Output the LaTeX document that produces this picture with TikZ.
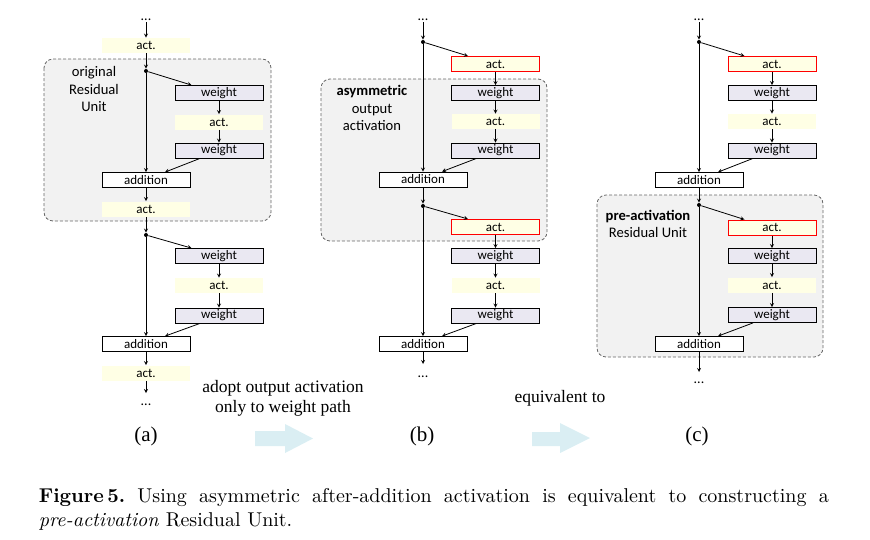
\documentclass[tikz,border=0pt]{standalone}
\usepackage{fontspec}
\newfontfamily\calib{Carlito}
\newfontfamily\timesr{Liberation Serif}
\definecolor{actfill}{RGB}{255,255,229}
\definecolor{wtfill}{RGB}{234,232,242}
\definecolor{unitfill}{RGB}{242,242,242}
\definecolor{flowblue}{RGB}{218,238,243}
\begin{document}
\begin{tikzpicture}[x=1pt,y=-1pt,line width=0.8pt,>=stealth,
  box/.style={minimum width=88pt,minimum height=15pt,inner sep=0pt,font=\calib\fontsize{13}{15}\selectfont},
  act/.style={box,fill=actfill},
  actr/.style={box,fill=actfill,draw=red,line width=1pt},
  wt/.style={box,fill=wtfill,draw=black},
  addn/.style={box,fill=white,draw=black},
  jn/.style={circle,fill=black,inner sep=0pt,minimum size=4pt},
  dotsn/.style={inner sep=1pt,font=\calib\fontsize{14}{15}\selectfont},
  unitbox/.style={draw=black!60,dash pattern=on 3pt off 2pt,fill=unitfill,rounded corners=9pt},
  utext/.style={align=center,inner sep=0pt,font=\calib\fontsize{14.6}{17.5}\selectfont},
  lab/.style={inner sep=0pt,font=\timesr\fontsize{21}{24}\selectfont},
  say/.style={align=center,inner sep=0pt,font=\timesr\fontsize{17.5}{20}\selectfont}]
\useasboundingbox (0,0) rectangle (870,539);
\draw [unitbox] (44,59) rectangle (271,221);
\draw [unitbox] (321,79) rectangle (547,241);
\draw [unitbox] (597,195) rectangle (823,357);

\node [dotsn] (topA) at (146,20) {...};
\node [act] (actA1) at (146,45.5) {act.};
\node [jn] (jA1) at (146,71) {};
\node [wt] (wA1) at (219,93) {weight};
\node [act] (aA1) at (219,122) {act.};
\node [wt] (wA2) at (219,150.5) {weight};
\node [addn] (addA1) at (146,180) {addition};
\node [act] (actA2) at (146,209) {act.};
\node [jn] (jA2) at (146,235) {};
\node [wt] (wA3) at (219,256) {weight};
\node [act] (aA3) at (219,285.5) {act.};
\node [wt] (wA4) at (219,315.5) {weight};
\node [addn] (addA2) at (146,344) {addition};
\node [act] (actA3) at (146,373) {act.};
\coordinate (endA) at (146,393);
\node [dotsn] (botA) at (146,405) {...};
\node [utext] (txtA) at (94,89) {original\\Residual\\Unit};
\node [lab] (labA) at (146,436) {(a)};
\draw [->] (topA) -- (actA1);
\draw [->] (actA1) -- (jA1);
\draw [->] (jA1) -- (addA1);
\draw [->] (jA1) -- ([xshift=17pt]wA1.north west);
\draw [->] (wA1) -- (aA1);
\draw [->] (aA1) -- (wA2);
\draw [->] ([xshift=-19pt]wA2.south) -- ([xshift=19pt]addA1.north);
\draw [->] (addA1) -- (actA2);
\draw [->] (actA2) -- (jA2);
\draw [->] (jA2) -- (addA2);
\draw [->] (jA2) -- ([xshift=17pt]wA3.north west);
\draw [->] (wA3) -- (aA3);
\draw [->] (aA3) -- (wA4);
\draw [->] ([xshift=-19pt]wA4.south) -- ([xshift=19pt]addA2.north);
\draw [->] (addA2) -- (actA3);
\draw [->] (actA3) -- (endA);

\node [dotsn] (topB) at (423,20) {...};
\node [jn] (jB1) at (423,42) {};
\node [actr] (actB1) at (495.5,64) {act.};
\node [wt] (wB1) at (495.5,93) {weight};
\node [act] (aB1) at (495.5,121.5) {act.};
\node [wt] (wB2) at (495.5,150.5) {weight};
\node [addn] (addB1) at (423,179.5) {addition};
\node [jn] (jB2) at (423,206) {};
\node [actr] (actB2) at (495.5,227) {act.};
\node [wt] (wB3) at (495.5,256) {weight};
\node [act] (aB2) at (495.5,285.5) {act.};
\node [wt] (wB4) at (495.5,315.5) {weight};
\node [addn] (addB2) at (423,344) {addition};
\coordinate (endB) at (423,364);
\node [dotsn] (botB) at (423,377) {...};
\node [utext] (txtB) at (372,108) {\textbf{asymmetric}\\output\\activation};
\node [lab] (labB) at (422,436) {(b)};
\draw [->] (topB) -- (jB1);
\draw [->] (jB1) -- (addB1);
\draw [->] (jB1) -- ([xshift=17pt]actB1.north west);
\draw [->] (actB1) -- (wB1);
\draw [->] (wB1) -- (aB1);
\draw [->] (aB1) -- (wB2);
\draw [->] ([xshift=-19pt]wB2.south) -- ([xshift=19pt]addB1.north);
\draw [->] (addB1) -- (jB2);
\draw [->] (jB2) -- (addB2);
\draw [->] (jB2) -- ([xshift=17pt]actB2.north west);
\draw [->] (actB2) -- (wB3);
\draw [->] (wB3) -- (aB2);
\draw [->] (aB2) -- (wB4);
\draw [->] ([xshift=-19pt]wB4.south) -- ([xshift=19pt]addB2.north);
\draw [->] (addB2) -- (endB);

\node [dotsn] (topC) at (699,20) {...};
\node [jn] (jC1) at (699,42) {};
\node [actr] (actC1) at (772,64) {act.};
\node [wt] (wC1) at (772,93) {weight};
\node [act] (aC1) at (772,121.5) {act.};
\node [wt] (wC2) at (772,150.5) {weight};
\node [addn] (addC1) at (699,180) {addition};
\node [jn] (jC2) at (699,205) {};
\node [actr] (actC2) at (772,227.5) {act.};
\node [wt] (wC3) at (772,256) {weight};
\node [act] (aC2) at (772,285) {act.};
\node [wt] (wC4) at (772,315) {weight};
\node [addn] (addC2) at (699,344) {addition};
\coordinate (endC) at (699,372);
\node [dotsn] (botC) at (699,383) {...};
\node [utext] (txtC) at (648,224) {\textbf{pre-activation}\\Residual Unit};
\node [lab] (labC) at (697,436) {(c)};
\draw [->] (topC) -- (jC1);
\draw [->] (jC1) -- (addC1);
\draw [->] (jC1) -- ([xshift=17pt]actC1.north west);
\draw [->] (actC1) -- (wC1);
\draw [->] (wC1) -- (aC1);
\draw [->] (aC1) -- (wC2);
\draw [->] ([xshift=-19pt]wC2.south) -- ([xshift=19pt]addC1.north);
\draw [->] (addC1) -- (jC2);
\draw [->] (jC2) -- (addC2);
\draw [->] (jC2) -- ([xshift=17pt]actC2.north west);
\draw [->] (actC2) -- (wC3);
\draw [->] (wC3) -- (aC2);
\draw [->] (aC2) -- (wC4);
\draw [->] ([xshift=-19pt]wC4.south) -- ([xshift=19pt]addC2.north);
\draw [->] (addC2) -- (endC);

\node [say] (sayAB) at (283,398) {adopt output activation\\only to weight path};
\node [say] (sayBC) at (560,398) {equivalent to};
\fill [flowblue] (255,431) -- (285,431) -- (285,424) -- (313,438.5) -- (285,453) -- (285,446) -- (255,446) -- cycle;
\fill [flowblue] (532,432) -- (560,432) -- (560,423) -- (590,438) -- (560,453) -- (560,446) -- (532,446) -- cycle;

\node [anchor=north west,text width=395pt,align=justify,inner sep=0pt,scale=2,font=\fontsize{10}{12}\selectfont\frenchspacing] (cap) at (38,488)
  {\textbf{Figure\,5.} Using asymmetric after-addition activation is equivalent to constructing a\linebreak\textit{pre-activation} Residual Unit.};
\end{tikzpicture}
\end{document}
